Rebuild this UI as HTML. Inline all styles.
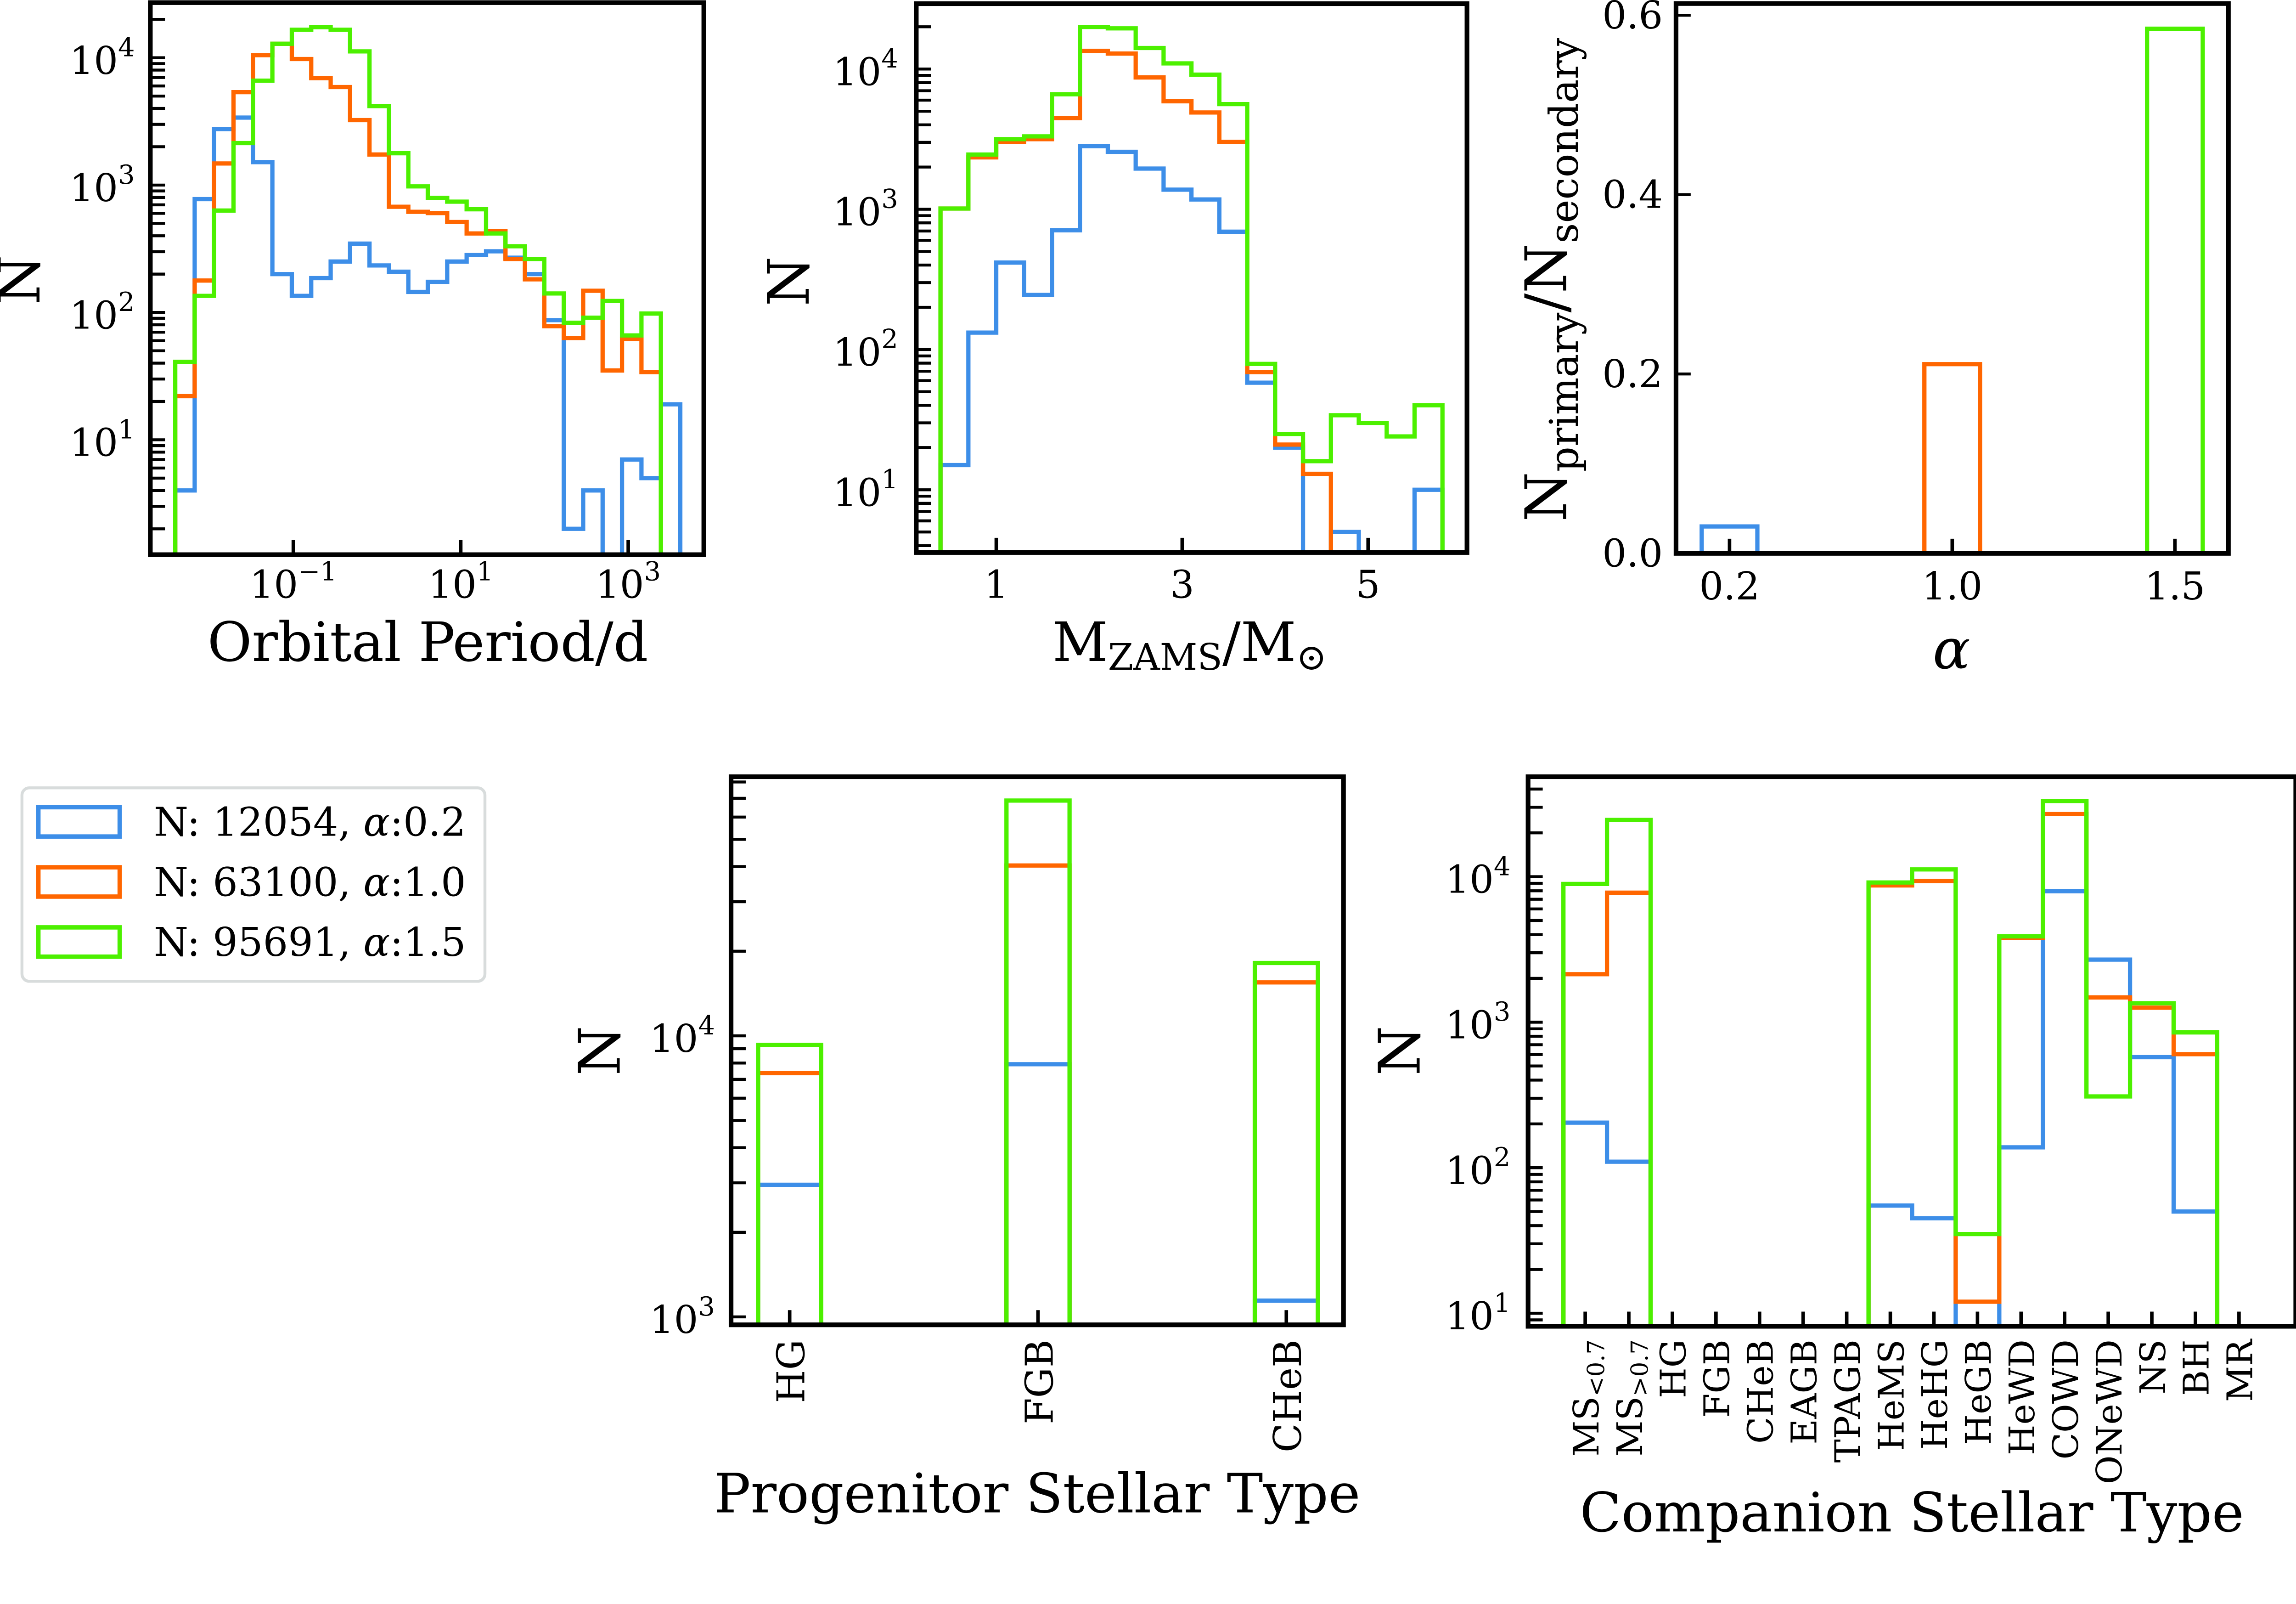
<!DOCTYPE html>
<html><head><meta charset="utf-8">
<style>
html,body{margin:0;padding:0;background:#fff;overflow:hidden;}
svg{display:block;}
text{font-family:"DejaVu Serif","Liberation Serif",serif;fill:#000;}
</style></head>
<body>
<svg id="fig" xmlns="http://www.w3.org/2000/svg" width="5193" height="3492" viewBox="0 0 1627.6 1094.5" preserveAspectRatio="xMinYMin meet">
<rect x="0" y="0" width="1627.6" height="1094.5" fill="#fff"/>
</svg>
<script>
// ---------- DATA ----------
const periodEdgeStart = -2.41;
const periodEdgeStep = 0.232;
const periodBlue = [4,776,2754,3388,1514,200,135,186,251,347,234,209,145,174,251,282,302,269,200,87,2,4,0,7,5,19];
const periodOrange = [22,178,1479,5370,10471,12882,9772,6918,5888,3236,1738,676,617,603,513,417,437,263,182,78,63,148,35,62,34,0];
const periodGreen = [41,135,631,2138,6607,12882,16596,17378,16596,11220,4169,1778,977,794,741,646,417,331,263,141,83,91,123,66,98,0];
const periodTickExp = [-1,1,3];
const massEdgeStart = 0.4;
const massEdgeStep = 0.3;
const massBlue = [15,132,417,245,708,2818,2570,1950,1380,1175,692,58,20,0,5,0,0,10];
const massOrange = [1012,2344,3020,3162,4467,13490,12882,8710,5888,4898,3020,69,21,13,0,0,0,0];
const massGreen = [1012,2455,3162,3311,6607,19953,19498,14125,10965,9120,5623,79,25,16,34,30,24,40];
const massTicks = [1,3,5];
const alphaCats = ["0.2","1.0","1.5"];
const ratioValues = [0.030,0.211,0.585];
const ratioTicks = [0.0,0.2,0.4,0.6];
const progCats = ["HG","FGB","CHeB"];
const progBlue = [2951,7925,1143];
const progOrange = [7362,40365,15488];
const progGreen = [9290,68707,18155];
const compCats = ["MS<0.7","MS>0.7","HG","FGB","CHeB","EAGB","TPAGB","HeMS","HeHG","HeGB","HeWD","COWD","ONeWD","NS","BH","MR"];
const compBlue = [204,110,0,0,0,0,0,55,45,0,138,7943,2692,575,50,0];
const compOrange = [2138,7762,0,0,0,0,0,8710,9333,12,3802,26915,1479,1259,603,0];
const compGreen = [8913,24547,0,0,0,0,0,9120,11220,35,3890,33113,309,1349,851,0];
const legendLabels = ["N: 12054, ","N: 63100, ","N: 95691, "];
const legendAlpha = ["0.2","1.0","1.5"];

const COLORS = ["#3d8ee8","#ff6600","#4cf000"];
const LW = 2.9;
const TICKFS = 26;
const NS = "http://www.w3.org/2000/svg";
const svg = document.getElementById('fig');
function el(tag, attrs, parent){
  const e = document.createElementNS(NS, tag);
  for (const k in attrs) e.setAttribute(k, attrs[k]);
  (parent||svg).appendChild(e);
  return e;
}
function linScale(d0,d1,r0,r1){return v => r0 + (v-d0)/(d1-d0)*(r1-r0);}
let clipId = 0;
function makeAxes(name, box){
  const g = el('g', {});
  
  
  clipId++;
  const cp = el('clipPath', {id:'clip'+clipId}, g);
  el('rect', {x:box.x0, y:box.y0, width:box.x1-box.x0, height:box.y1-box.y0}, cp);
  const plot = el('g', {'clip-path':'url(#clip'+clipId+')'}, g);
  
  
  return {g, plot, box};
}
function frame(ax){
  const b = ax.box;
  const r = el('rect', {x:b.x0, y:b.y0, width:b.x1-b.x0, height:b.y1-b.y0, fill:'none', stroke:'#000', 'stroke-width':3.2}, ax.g);
  
  
}
function tickY(ax, y){
  const t = el('line', {x1:ax.box.x0, x2:ax.box.x0+10, y1:y, y2:y, stroke:'#000', 'stroke-width':2}, ax.g);
  
  
}
function tickX(ax, x){
  const t = el('line', {x1:x, x2:x, y1:ax.box.y1, y2:ax.box.y1-10, stroke:'#000', 'stroke-width':2.4}, ax.g);
  
  
}
function logTicksY(ax, ys, lo, hi){
  for (let d=Math.floor(lo); d<=Math.ceil(hi); d++){
    for (let m=1;m<10;m++){
      const v = d + Math.log10(m);
      if (v>=lo && v<=hi) tickY(ax, ys(v));
    }
  }
}
function pow10Label(parent, x, y, exp, anchor, name){
  const t = el('text', {x:x, y:y, 'font-size':TICKFS, 'text-anchor':anchor||'end'}, parent);
  
  
  t.appendChild(document.createTextNode('10'));
  const s = el('tspan', {dy:-12, 'font-size':18}, t);
  s.textContent = (exp<0 ? '\u2212'+(-exp) : String(exp));
  return t;
}
function text(parent, x, y, str, size, attrs, name){
  const t = el('text', Object.assign({x:x, y:y, 'font-size':size}, attrs||{}), parent);
  t.textContent = str;
  
  
  return t;
}
function stepPath(ax, edges, counts, xs, ys, color, name){
  const bottom = ax.box.y1 + 10;
  const yv = c => c>0 ? ys(Math.log10(c)) : bottom;
  let d = 'M'+xs(edges[0]).toFixed(2)+','+bottom;
  for (let i=0;i<counts.length;i++){
    const y = yv(counts[i]).toFixed(2);
    d += ' L'+xs(edges[i]).toFixed(2)+','+y+' L'+xs(edges[i+1]).toFixed(2)+','+y;
  }
  d += ' L'+xs(edges[counts.length]).toFixed(2)+','+bottom;
  const p = el('path', {d:d, fill:'none', stroke:color, 'stroke-width':LW, 'stroke-linejoin':'miter'}, ax.plot);
  
  
}
function rotLabel(parent, x, y, str, size, name){
  const t = el('text', {x:0, y:0, 'font-size':size, 'text-anchor':'middle', transform:'translate('+x+','+y+') rotate(-90)'}, parent);
  t.textContent = str;
  
  
  return t;
}

// ---------- PANEL 1 ----------
(function(){
  const ax = makeAxes('orbital-period-panel', {x0:102.6, y0:1.8, x1:480.4, y1:378.5});
  const xs = linScale(-1, 1, 200.2, 314.5);
  const ys = linScale(4, 1, 39.4, 300.1);
  const edges = periodBlue.map((_,i)=>periodEdgeStart+i*periodEdgeStep).concat([periodEdgeStart+periodBlue.length*periodEdgeStep]);
  stepPath(ax, edges, periodBlue, xs, ys, COLORS[0], 'period-hist-alpha-0.2');
  stepPath(ax, edges, periodOrange, xs, ys, COLORS[1], 'period-hist-alpha-1.0');
  stepPath(ax, edges, periodGreen, xs, ys, COLORS[2], 'period-hist-alpha-1.5');
  frame(ax);
  logTicksY(ax, ys, 0.098, 4.436);
  [1,2,3,4].forEach(e=>pow10Label(ax.g, 92, ys(e)+11, e, 'end', 'y-tick-label'));
  periodTickExp.forEach(e=>{ tickX(ax, xs(e)); pow10Label(ax.g, xs(e), 408, e, 'middle', 'x-tick-label'); });
  text(ax.g, 292, 451, 'Orbital Period/d', 37, {'text-anchor':'middle'}, 'x-axis-title');
  rotLabel(ax.g, 27, 191, 'N', 39, 'y-axis-title');
})();

// ---------- PANEL 2 ----------
(function(){
  const ax = makeAxes('zams-mass-panel', {x0:625.4, y0:2.5, x1:1001.3, y1:377});
  const xs = linScale(1, 5, 680, 933.8);
  const ys = linScale(4, 3, 47.1, 142.8);
  const edges = massBlue.map((_,i)=>massEdgeStart+i*massEdgeStep).concat([massEdgeStart+massBlue.length*massEdgeStep]);
  stepPath(ax, edges, massBlue, xs, ys, COLORS[0], 'mass-hist-alpha-0.2');
  stepPath(ax, edges, massOrange, xs, ys, COLORS[1], 'mass-hist-alpha-1.0');
  stepPath(ax, edges, massGreen, xs, ys, COLORS[2], 'mass-hist-alpha-1.5');
  frame(ax);
  logTicksY(ax, ys, 0.553, 4.466);
  [1,2,3,4].forEach(e=>pow10Label(ax.g, 613, ys(e)+11, e, 'end', 'y-tick-label'));
  massTicks.forEach(v=>{ tickX(ax, xs(v)); text(ax.g, xs(v), 408, String(v), TICKFS, {'text-anchor':'middle'}, 'x-tick-label'); });
  const t = text(ax.g, 812, 451, 'M', 37, {'text-anchor':'middle'}, 'x-axis-title');
  const s1 = el('tspan', {'font-size':25, dy:6}, t); s1.textContent = 'ZAMS';
  const s2 = el('tspan', {dy:-6}, t); s2.textContent = '/M';
  const s3 = el('tspan', {'font-size':25, dy:6}, t); s3.textContent = '\u2299';
  rotLabel(ax.g, 552, 192, 'N', 39, 'y-axis-title');
})();

// ---------- PANEL 3 ----------
(function(){
  const ax = makeAxes('ratio-panel', {x0:1144, y0:2.4, x1:1521, y1:377.6});
  const xs = linScale(0, 1, 1180.5, 1332.5);
  const ys = linScale(0, 0.6, 377.6, 10.4);
  const w = 0.25;
  ratioValues.forEach((v,i)=>{
    const x0 = xs(i-w/2), x1 = xs(i+w/2);
    const r = el('path', {d:'M'+x0+','+(ys(0)+5)+' L'+x0+','+ys(v)+' L'+x1+','+ys(v)+' L'+x1+','+(ys(0)+5), fill:'none', stroke:COLORS[i], 'stroke-width':LW}, ax.plot);
    
    
  });
  frame(ax);
  ratioTicks.forEach(v=>{ tickY(ax, ys(v)); text(ax.g, 1135, ys(v)+9, v.toFixed(1), TICKFS, {'text-anchor':'end'}, 'y-tick-label'); });
  alphaCats.forEach((c,i)=>{ tickX(ax, xs(i)); text(ax.g, xs(i), 409, c, TICKFS, {'text-anchor':'middle'}, 'x-tick-label'); });
  text(ax.g, 1332, 456, '\u03b1', 38, {'text-anchor':'middle','font-style':'italic'}, 'x-axis-title');
  const t = el('text', {x:0, y:0, 'font-size':39, 'text-anchor':'middle', transform:'translate(1069,191) rotate(-90)'}, ax.g);
  
  
  t.appendChild(document.createTextNode('N'));
  const a = el('tspan', {'font-size':27, dy:8}, t); a.textContent = 'primary';
  const b = el('tspan', {dy:-8}, t); b.textContent = '/N';
  const c = el('tspan', {'font-size':27, dy:8}, t); c.textContent = 'secondary';
})();

// ---------- LEGEND ----------
(function(){
  const g = el('g', {});
  
  
  const f = el('rect', {x:15, y:537.6, width:316, height:132, rx:5, fill:'#fff', stroke:'#d8dcdc', 'stroke-width':2}, g);
  
  
  legendLabels.forEach((lab,i)=>{
    const y = 549.3 + i*41;
    const e = el('g', {}, g);
    
    
    const h = el('rect', {x:26.2, y:y+1.5, width:55.5, height:20, fill:'none', stroke:COLORS[i], 'stroke-width':3}, e);
    
    
    const t = el('text', {x:105, y:y+21, 'font-size':27, textLength:213, lengthAdjust:'spacingAndGlyphs'}, e);
    
    
    t.appendChild(document.createTextNode(lab));
    const al = el('tspan', {'font-style':'italic'}, t); al.textContent = '\u03b1';
    const rest = el('tspan', {}, t); rest.textContent = ':'+legendAlpha[i];
  });
})();

// ---------- PANEL 4 ----------
(function(){
  const ax = makeAxes('progenitor-type-panel', {x0:499, y0:530, x1:917, y1:904});
  const xs = linScale(0, 1, 539, 708.5);
  const ys = linScale(4, 3, 706.8, 898.6);
  const w = 0.254;
  [[progBlue,0],[progOrange,1],[progGreen,2]].forEach(([arr,ci])=>{
    arr.forEach((v,i)=>{
      const x0 = xs(i-w/2), x1 = xs(i+w/2), y = ys(Math.log10(v));
      const p = el('path', {d:'M'+x0+','+(ax.box.y1+5)+' L'+x0+','+y+' L'+x1+','+y+' L'+x1+','+(ax.box.y1+5), fill:'none', stroke:COLORS[ci], 'stroke-width':LW}, ax.plot);
      
      
    });
  });
  frame(ax);
  logTicksY(ax, ys, 2.972, 4.922);
  [3,4].forEach(e=>pow10Label(ax.g, 488, ys(e)+11, e, 'end', 'y-tick-label'));
  progCats.forEach((c,i)=>{
    tickX(ax, xs(i));
    const t = el('text', {x:0, y:0, 'font-size':26, 'text-anchor':'end', transform:'translate('+(xs(i)+10)+',914) rotate(-90)'}, ax.g);
    t.textContent = c;
    
    
  });
  text(ax.g, 708, 1032, 'Progenitor Stellar Type', 37, {'text-anchor':'middle'}, 'x-axis-title');
  rotLabel(ax.g, 423, 717, 'N', 39, 'y-axis-title');
})();

// ---------- PANEL 5 ----------
(function(){
  const ax = makeAxes('companion-type-panel', {x0:1043, y0:530, x1:1567, y1:905});
  const xs = linScale(0, 1, 1082, 1111.75);
  const ys = linScale(4, 3, 598.2, 697.5);
  const edges = compCats.map((_,i)=>i-0.5).concat([compCats.length-0.5]);
  stepPath(ax, edges, compBlue, xs, ys, COLORS[0], 'companion-hist-alpha-0.2');
  stepPath(ax, edges, compOrange, xs, ys, COLORS[1], 'companion-hist-alpha-1.0');
  stepPath(ax, edges, compGreen, xs, ys, COLORS[2], 'companion-hist-alpha-1.5');
  frame(ax);
  logTicksY(ax, ys, 0.907, 4.687);
  [1,2,3,4].forEach(e=>pow10Label(ax.g, 1031, ys(e)+11, e, 'end', 'y-tick-label'));
  compCats.forEach((c,i)=>{
    tickX(ax, xs(i));
    const t = el('text', {x:0, y:0, 'font-size':24, 'text-anchor':'end', transform:'translate('+(xs(i)+9)+',914) rotate(-90)'}, ax.g);
    
    
    if (c.startsWith('MS')){
      t.appendChild(document.createTextNode('MS'));
      const s = el('tspan', {'font-size':16, dy:4}, t); s.textContent = c.slice(2);
    } else t.textContent = c;
  });
  text(ax.g, 1305, 1045, 'Companion Stellar Type', 37, {'text-anchor':'middle'}, 'x-axis-title');
  rotLabel(ax.g, 969, 717, 'N', 39, 'y-axis-title');
})();
</script>
</body></html>
